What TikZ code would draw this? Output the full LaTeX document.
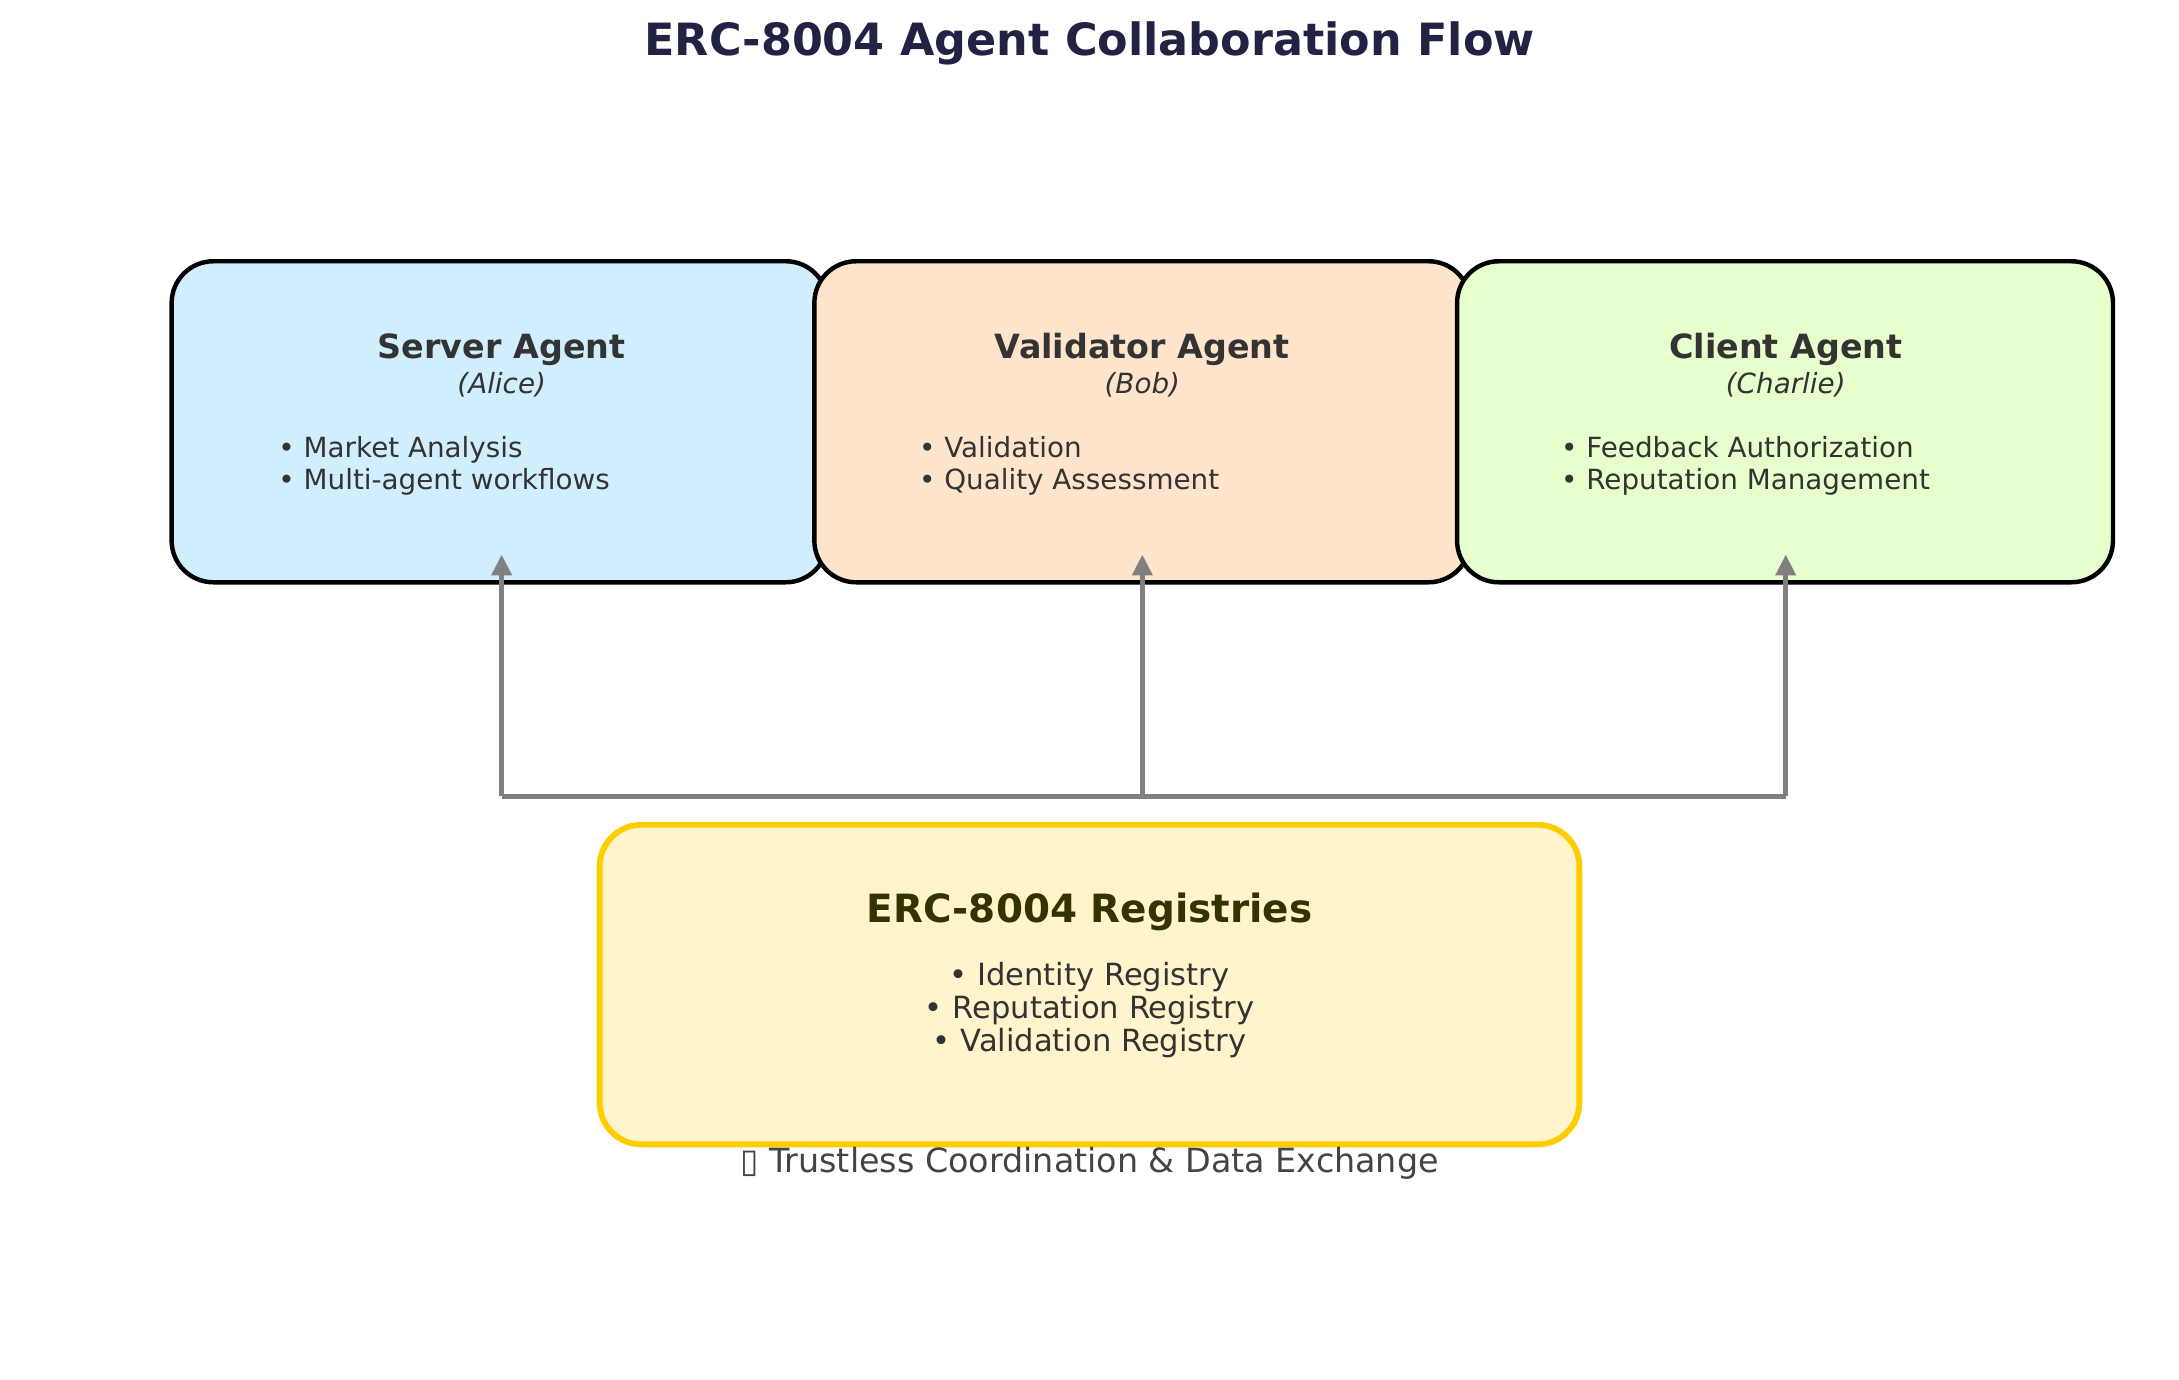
\documentclass[tikz,border=0pt]{standalone}
\usepackage{fontspec}
\setmainfont{DejaVu Sans}
\usetikzlibrary{arrows.meta}

\definecolor{titlenavy}{HTML}{222244}
\definecolor{textgray}{HTML}{333333}
\definecolor{serverfill}{HTML}{D1EEFF}
\definecolor{validatorfill}{HTML}{FFE4CC}
\definecolor{clientfill}{HTML}{E6FFCC}
\definecolor{regfill}{HTML}{FFF4CC}
\definecolor{regborder}{HTML}{FFCC00}
\definecolor{regtext}{HTML}{333300}
\definecolor{flowgray}{HTML}{808080}
\definecolor{notegray}{HTML}{444444}

\tikzset{every picture/.style={line width=0.75pt}}
\tikzset{
  agentbox/.style={draw=black, line width=3.2pt, rounded corners=30pt, minimum width=472pt, minimum height=231pt, inner sep=0pt},
  regbox/.style={draw=regborder, fill=regfill, line width=4.2pt, rounded corners=30pt, minimum width=705pt, minimum height=230pt, inner sep=0pt},
  boxtitle/.style={anchor=base, inner sep=0pt, text=textgray, font=\fontsize{24}{28}\selectfont\bfseries},
  boxsub/.style={anchor=base, inner sep=0pt, text=textgray, font=\fontsize{20}{24}\selectfont\itshape},
  bullet/.style={anchor=base west, inner sep=0pt, text=textgray, font=\fontsize{20}{23}\selectfont},
  regbullet/.style={anchor=base, inner sep=0pt, text=textgray, font=\fontsize{22}{24}\selectfont},
  flow/.style={draw=flowgray, line width=3.8pt},
  flowtip/.style={flow, -{Triangle[length=15pt,width=14pt]}}
}

\begin{document}
\begin{tikzpicture}[x=1pt,y=1pt,yscale=-1,xscale=1]
\useasboundingbox (0,0) rectangle (1568,993);

% Title
\draw (784,40) node [anchor=base][inner sep=0pt, text=titlenavy, font=\fontsize{32}{38}\selectfont\bfseries] (title) {ERC-8004 Agent Collaboration Flow};

%Shape: Rounded Rectangle [Server Agent]
\node [agentbox, fill=serverfill] (server) at (359.5,303.5) {};
%Shape: Rounded Rectangle [Validator Agent]
\node [agentbox, fill=validatorfill] (validator) at (822,303.5) {};
%Shape: Rounded Rectangle [Client Agent]
\node [agentbox, fill=clientfill] (client) at (1284.5,303.5) {};

% Text Node
\draw (361,258) node [boxtitle] (serverT) {Server Agent};
\draw (361,283) node [boxsub] (serverS) {(Alice)};
\draw (200,329) node [bullet] (serverB1) {• Market Analysis};
\draw (200,352) node [bullet] (serverB2) {• Multi-agent workflows};

% Text Node
\draw (822,258) node [boxtitle] (validatorT) {Validator Agent};
\draw (822,283) node [boxsub] (validatorS) {(Bob)};
\draw (661,329) node [bullet] (validatorB1) {• Validation};
\draw (661,352) node [bullet] (validatorB2) {• Quality Assessment};

% Text Node
\draw (1285,258) node [boxtitle] (clientT) {Client Agent};
\draw (1285,283) node [boxsub] (clientS) {(Charlie)};
\draw (1123,329) node [bullet] (clientB1) {• Feedback Authorization};
\draw (1123,352) node [bullet] (clientB2) {• Reputation Management};

%Shape: Rounded Rectangle [Registries]
\node [regbox] (registry) at (784,708.5) {};

% Text Node
\draw (784,664) node [anchor=base][inner sep=0pt, text=regtext, font=\fontsize{28}{32}\selectfont\bfseries] (registryT) {ERC-8004 Registries};
\draw (784,709) node [regbullet] (registryB1) {• Identity Registry};
\draw (784,733) node [regbullet] (registryB2) {• Reputation Registry};
\draw (784,757) node [regbullet] (registryB3) {• Validation Registry};

% Text Node
\draw (784,844) node [anchor=base][inner sep=0pt, text=notegray, font=\fontsize{24}{28}\selectfont] (note) {▯ Trustless Coordination \& Data Exchange};

%Straight Lines [bus]
\coordinate (busL) at (361,573);
\coordinate (busM) at (822,573);
\coordinate (busR) at (1285,573);
\coordinate (serverIn) at (361,399);
\coordinate (validatorIn) at (822,399);
\coordinate (clientIn) at (1285,399);
\draw [flow] (busL) -- (busR);
\draw [flowtip] (busL) -- (serverIn);
\draw [flowtip] (busM) -- (validatorIn);
\draw [flowtip] (busR) -- (clientIn);

\end{tikzpicture}
\end{document}
